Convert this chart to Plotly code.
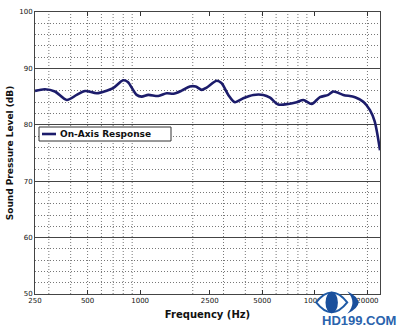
import plotly.graph_objects as go

freq_hz = [250, 285, 325, 380, 433, 483, 564, 643, 700, 800, 850, 955, 1020, 1113,
           1270, 1418, 1550, 1728, 1925, 2080, 2250, 2402, 2742, 2920, 3196, 3487,
           3892, 4443, 5070, 5540, 6177, 7046, 7866, 8590, 9591, 10690, 11930, 12770,
           14550, 16980, 18940, 20680, 22000, 23600]
spl_db = [86.0, 86.3, 85.9, 84.4, 85.3, 86.0, 85.6, 86.05, 86.5, 87.9, 87.6, 85.3,
          85.0, 85.3, 85.1, 85.6, 85.5, 86.05, 86.8, 86.8, 86.2, 86.6, 87.8, 87.4,
          85.3, 84.0, 84.7, 85.3, 85.3, 84.8, 83.6, 83.7, 84.0, 84.4, 83.7, 84.9,
          85.3, 85.9, 85.3, 84.9, 84.1, 82.6, 80.6, 75.5]

x_tick_vals = [250, 500, 1000, 2500, 5000, 10000, 20000]
x_tick_text = ["250", "500", "1000", "2500", "5000", "10000", "20000"]
x_grid_vals = [300, 400, 500, 600, 700, 800, 900, 2000, 3000, 4000, 5000,
               6000, 7000, 8000, 9000, 20000]
y_tick_vals = [50, 60, 70, 80, 90, 100]
series_name = "On-Axis Response"
line_color = "#1c1c6b"

fig = go.Figure()
fig.add_trace(go.Scatter(
    x=freq_hz, y=spl_db, mode="lines", name=series_name, showlegend=False,
    line=dict(color=line_color, width=2.6, shape="spline", smoothing=0.8),
))

for gx in x_grid_vals:
    fig.add_shape(type="line", xref="x", yref="paper", x0=gx, x1=gx, y0=0, y1=1,
                  line=dict(color="#777777", width=1, dash="1px,2px"), layer="below")

fig.update_layout(
    width=400, height=330,
    margin=dict(l=35, r=20, t=12, b=36),
    paper_bgcolor="white", plot_bgcolor="white",
    font=dict(family="DejaVu Sans", color="#111111"),
    showlegend=False,
    xaxis=dict(
        type="log", range=[2.39794, 4.3729], automargin=False,
        tickvals=x_tick_vals, ticktext=x_tick_text,
        tickfont=dict(size=7), ticks="inside", ticklen=4, tickcolor="#333333",
        showgrid=False, zeroline=False,
        showline=True, linecolor="#444444", linewidth=1, mirror="ticks",
        title=dict(text="<b>Frequency (Hz)</b>", font=dict(size=10), standoff=6),
    ),
    yaxis=dict(
        range=[50, 100], tickvals=y_tick_vals, automargin=False,
        tickfont=dict(size=7), ticks="",
        showgrid=True, gridcolor="#444444", gridwidth=1,
        minor=dict(dtick=2, tick0=50, showgrid=True, gridcolor="#777777",
                   griddash="1px,2px", gridwidth=1),
        zeroline=False,
        showline=True, linecolor="#444444", linewidth=1, mirror=True,
        title=dict(text="<b>Sound Pressure Level (dB)</b>", font=dict(size=9), standoff=4),
    ),
)

# legend drawn manually (pixel positions converted to paper coords)
def px(xp):
    return (xp - 35) / 345.0

def py(yp):
    return (294 - yp) / 282.0

fig.add_shape(type="rect", xref="paper", yref="paper",
              x0=px(39), x1=px(171), y0=py(141), y1=py(127),
              fillcolor="white", line=dict(color="#333333", width=1))
fig.add_shape(type="line", xref="paper", yref="paper",
              x0=px(42), x1=px(56), y0=py(134), y1=py(134),
              line=dict(color=line_color, width=2.6))
fig.add_annotation(text="<b>" + series_name + "</b>", xref="paper", yref="paper",
                   x=px(58), y=py(134), xanchor="left", yanchor="middle",
                   showarrow=False, font=dict(size=9, family="DejaVu Sans", color="#111111"))

# watermark logo
fig.add_shape(type="path", xref="paper", yref="paper",
              path="M 0.815 -0.03 Q 0.86 -0.10 0.905 -0.03 Q 0.86 0.04 0.815 -0.03 Z",
              fillcolor="white", line=dict(color="#1f5aa6", width=2))
fig.add_shape(type="circle", xref="paper", yref="paper",
              x0=0.842, x1=0.878, y0=-0.068, y1=0.008,
              fillcolor="#1a4f9c", line=dict(width=0))
fig.add_shape(type="path", xref="paper", yref="paper",
              path="M 0.905 0.01 Q 0.97 -0.03 0.905 -0.07 Q 0.935 -0.03 0.905 0.01 Z",
              fillcolor="#1a4f9c", line=dict(width=0))
fig.add_annotation(text="<b>HD199.COM</b>", xref="paper", yref="paper",
                   x=px(359), y=py(320), xanchor="center", yanchor="middle", showarrow=False,
                   font=dict(family="Liberation Sans", size=13, color="#2a63ad"))

fig.write_html("out.html")
